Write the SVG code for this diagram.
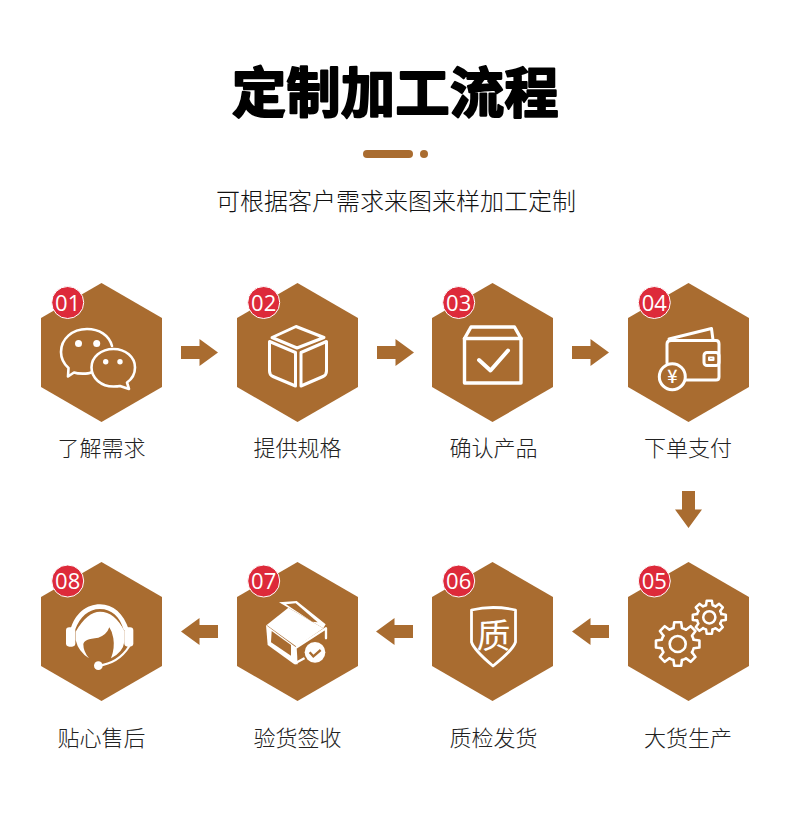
<svg xmlns="http://www.w3.org/2000/svg" xmlns:xlink="http://www.w3.org/1999/xlink" width="790" height="815" viewBox="0 0 790 815">
<style>
text{font-family:"Noto Sans CJK SC","Noto Sans",sans-serif;text-anchor:middle}
.title{font-size:54px;font-weight:700;fill:#000;stroke:#000;stroke-width:2.2px;stroke-linejoin:round;letter-spacing:.5px}
.sub{font-size:24px;font-weight:300;fill:#111}
.lab{font-size:22px;font-weight:300;fill:#222}
.hex{fill:#a96c30}
.badge{fill:#dd2a3a;stroke:#fff;stroke-width:1}
.num{font-size:22px;fill:#fff;font-family:"Open Sans","Noto Sans",sans-serif;font-weight:400}
.arr{fill:#a96c30}
.ln{fill:none;stroke:#fff;stroke-linecap:round;stroke-linejoin:round}
.w{fill:#fff}
.b{fill:#a96c30}
</style>
<defs>
<polygon id="hx" class="hex" points="60.5,0 121,35 121,104 60.5,139 0,104 0,35"/>
<polygon id="ar" class="arr" points="-18.5,-6.5 0,-6.5 0,-13.5 18.5,0 0,13.5 0,6.5 -18.5,6.5"/>
<path id="tooth" d="M-4.27 -15.94L-3.44 -21.73L3.44 -21.73L4.27 -15.94A16.5 16.5 0 0 1 8.25 -14.29"/>
<g id="gear">
<use xlink:href="#tooth"/><use xlink:href="#tooth" transform="rotate(45)"/><use xlink:href="#tooth" transform="rotate(90)"/><use xlink:href="#tooth" transform="rotate(135)"/><use xlink:href="#tooth" transform="rotate(180)"/><use xlink:href="#tooth" transform="rotate(225)"/><use xlink:href="#tooth" transform="rotate(270)"/><use xlink:href="#tooth" transform="rotate(315)"/>
</g>
</defs>
<rect width="790" height="815" fill="#fff"/>
<g id="header">
<text class="title" x="395.500" y="113">定制加工流程</text>
<rect x="363" y="150" width="50" height="8" rx="4" fill="#a96c30"/>
<circle cx="424" cy="154" r="4" fill="#a96c30"/>
<text class="sub" x="396" y="210">可根据客户需求来图来样加工定制</text>
</g>
<g id="connectors">
<use xlink:href="#ar" transform="translate(199.500,352.500)"/>
<use xlink:href="#ar" transform="translate(395.500,352.500)"/>
<use xlink:href="#ar" transform="translate(590.500,352.500)"/>
<use xlink:href="#ar" transform="translate(688.500,509.500) rotate(90)"/>
<use xlink:href="#ar" transform="translate(590.500,631.500) rotate(180)"/>
<use xlink:href="#ar" transform="translate(394.500,631.500) rotate(180)"/>
<use xlink:href="#ar" transform="translate(199.500,631.500) rotate(180)"/>
</g>
<g id="node1">
<use xlink:href="#hx" x="41" y="283"/>
<path class="ln" stroke-width="2.600" d="M91 372.500C88 374 78 374 74 372.500L68 376.500L68.500 368C63 363 61 357 61 352C61 339 72 329 87 329C99 329 109 335 112 346"/>
<path class="ln" stroke-width="2.600" d="M91.500 367.500C91.500 357 101 349 113.500 349C125.500 349 135 357 135 367.500C135 374 132 379 127 382.500L129 389L120 386C118 386.500 116 386.500 113.500 386.500C101 386.500 91.500 378 91.500 367.500Z"/>
<circle class="w" cx="78.500" cy="343.500" r="3.500"/><circle class="w" cx="96.700" cy="343.500" r="3.500"/>
<circle class="w" cx="105.700" cy="361.700" r="2.700"/><circle class="w" cx="120" cy="361.700" r="2.700"/>
<circle class="badge" cx="67.700" cy="302.500" r="16"/>
<text class="num" x="67.700" y="310.500">01</text>
<text class="lab" x="101.500" y="456">了解需求</text>
</g>
<g id="node2">
<use xlink:href="#hx" x="237" y="283"/>
<g class="ln" stroke-width="3">
<path d="M296 326.500L324 337.500L297 348L272 337.500Z"/>
<path d="M269.500 341.500L295.500 352.500V386L273 376.500Q269.500 375 269.500 371Z"/>
<path d="M326.500 341.500L301 352.500V386L323 376.500Q326.500 375 326.500 371Z"/>
</g>
<circle class="badge" cx="263.700" cy="302.500" r="16"/>
<text class="num" x="263.700" y="310.500">02</text>
<text class="lab" x="297.500" y="456">提供规格</text>
</g>
<g id="node3">
<use xlink:href="#hx" x="432" y="283"/>
<g class="ln" stroke-width="3.400">
<path d="M464.500 338.500H521V383H464.500Z"/>
<path d="M464.500 338.500L471 327H514.500L521 338.500"/>
<path stroke-width="4" d="M479 360L490.500 370.500L508 350.500"/>
</g>
<circle class="badge" cx="458.700" cy="302.500" r="16"/>
<text class="num" x="458.700" y="310.500">03</text>
<text class="lab" x="493.500" y="456">确认产品</text>
</g>
<g id="node4">
<use xlink:href="#hx" x="628" y="283"/>
<g class="ln" stroke-width="3">
<path d="M667 363V344Q667 340.500 671 340.500H716Q719 340.500 719 344V377Q719 380 716 380H686"/>
<path d="M669 339L711.500 328.500L713 340"/>
<rect x="704" y="352.500" width="15" height="13" rx="3"/>
<path stroke-width="2" d="M709 357.500H713.500V360H709Z"/>
</g>
<circle cx="672.300" cy="376.700" r="13" fill="#a96c30" stroke="#fff" stroke-width="3"/>
<text x="672.300" y="383" style="font-size:18px;font-weight:500" fill="#fff">¥</text>
<circle class="badge" cx="654.300" cy="302.500" r="16"/>
<text class="num" x="654.300" y="310.500">04</text>
<text class="lab" x="688" y="456">下单支付</text>
</g>
<g id="node5">
<use xlink:href="#hx" x="628" y="562"/>
<g class="ln" stroke-width="2.600">
<g transform="translate(677.700,644)"><use xlink:href="#gear"/><circle r="8"/></g>
<g transform="translate(709.300,617.300) scale(.76)" stroke-width="3.300"><use xlink:href="#gear"/><circle r="8"/></g>
</g>
<circle class="badge" cx="654.300" cy="581" r="16"/>
<text class="num" x="654.300" y="589">05</text>
<text class="lab" x="688" y="746">大货生产</text>
</g>
<g id="node6">
<use xlink:href="#hx" x="432" y="562"/>
<path class="ln" stroke-width="2.800" d="M471.500 610Q493 605 515.500 610V642Q513 650 493 666Q474 650 471.500 642Z"/>
<text x="493.500" y="648" style="font-size:34px;font-weight:400" fill="#fff">质</text>
<circle class="badge" cx="458.700" cy="581" r="16"/>
<text class="num" x="458.700" y="589">06</text>
<text class="lab" x="493.500" y="746">质检发货</text>
</g>
<g id="node7">
<use xlink:href="#hx" x="237" y="562"/>
<g transform="translate(255,595) scale(.3333)">
<polygon class="w" points="35,90 100,38 205,100 125,155"/>
<polygon class="w" points="72,22 125,18 212,88 205,100 100,38"/>
<polygon class="b" points="93,28 122,25 188,82 172,80"/>
<polygon class="w" points="33,90 125,158 128,208 118,208 38,150"/>
<polygon class="b" points="50,108 108,150 108,182 48,142"/>
<path class="ln" stroke-width="7" d="M125 157L213 100V130M122 204L148 190"/>
<circle cx="180" cy="172" r="36" fill="#a96c30"/>
<circle class="w" cx="180" cy="172" r="31"/>
<path d="M164 172L175 184L197 165" fill="none" stroke="#a96c30" stroke-width="7"/>
</g>
<circle class="badge" cx="263.700" cy="581" r="16"/>
<text class="num" x="263.700" y="589">07</text>
<text class="lab" x="297.500" y="746">验货签收</text>
</g>
<g id="node8">
<use xlink:href="#hx" x="41" y="562"/>
<g transform="translate(55,595) scale(.3333)">
<path class="w" d="M46 105C60 55 95 28 135 28C175 28 205 55 222 105L206 105C195 65 170 42 135 42C100 42 75 65 60 105Z"/>
<path class="w" d="M62 110C85 70 110 50 135 50C165 50 190 70 208 108L208 140Q205 170 168 190Q180 160 175 130Q172 110 163 97Q155 120 130 128Q85 132 85 148Q85 170 102 190Q70 170 62 135Z"/>
<rect class="w" x="33" y="97" width="28" height="58" rx="10"/>
<rect class="w" x="208" y="97" width="27" height="58" rx="10"/>
<circle class="w" cx="130" cy="212" r="13"/>
<path class="ln" stroke-width="6" d="M130 212Q190 205 222 155"/>
</g>
<circle class="badge" cx="67.700" cy="581" r="16"/>
<text class="num" x="67.700" y="589">08</text>
<text class="lab" x="101.500" y="746">贴心售后</text>
</g>
</svg>
